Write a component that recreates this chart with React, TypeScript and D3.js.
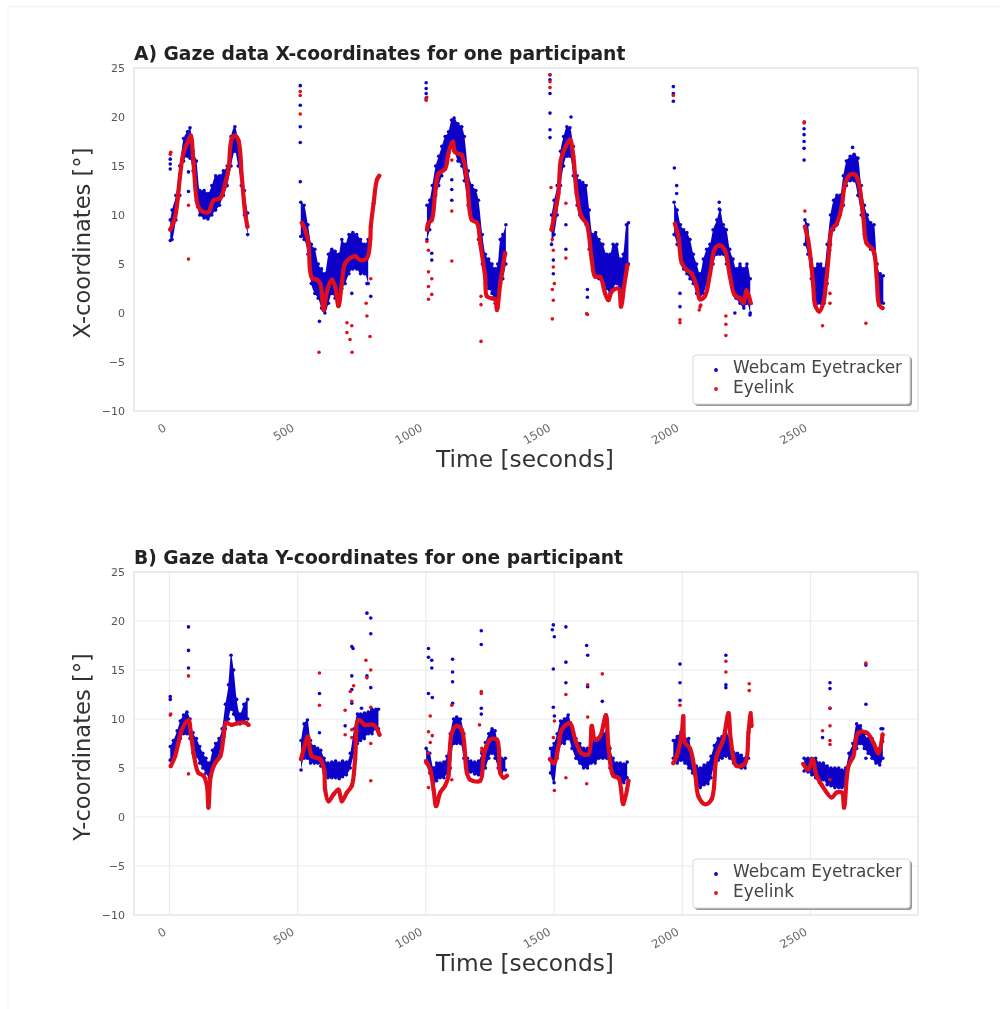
import React from "react";
import * as d3 from "d3";

// Values. Trace = [seconds, degrees]; band = [seconds, low, high]; outliers = [seconds, degrees]
const xTicks = [0, 500, 1000, 1500, 2000, 2500];
const yTicks = [-10, -5, 0, 5, 10, 15, 20, 25];

const xEyelinkTrace = [
  [[3,8.5],[22,9.8],[42,14.2],[55,16.4],[74,17.6],[83,18.1],[94,15.2],[113,10.8],[133,10.3],[152,10.3],[172,11.5],[198,11.7],[217,13.2],[230,14.6],[243,17.8],[256,18.1],[269,17.6],[282,13.9],[295,10.2],[304,8.8]],
  [[516,9.2],[529,8.5],[542,7.1],[555,3.6],[575,3.4],[588,3],[601,.3],[614,2.2],[633,3.4],[646,2.7],[659,.7],[672,3],[685,5.1],[705,5.6],[724,5.8],[744,5.4],[770,5.6],[783,7.5],[785,8.8],[796,11.2],[809,13.6],[818,14]],
  [[1004,8.5],[1010,9.2],[1023,9.5],[1036,12.2],[1049,14.2],[1075,14.7],[1088,16.3],[1105,17.5],[1114,16.4],[1140,16.1],[1160,13.6],[1179,9.5],[1199,9.2],[1212,7.1],[1231,3.7],[1238,1.7],[1257,1.5],[1270,1.4],[1277,.3],[1290,3],[1309,6.1]],
  [[1490,8.5],[1503,10.2],[1517,12.2],[1526,15.6],[1542,16.8],[1562,17.7],[1575,16],[1588,12.2],[1607,9.8],[1627,9.1],[1647,5.4],[1660,3.7],[1679,3.7],[1699,2],[1712,1.3],[1725,2.2],[1751,2.5],[1761,.65],[1773,2.7],[1786,4.9]],
  [[1971,9.1],[1985,7.8],[1998,5.1],[2017,4.4],[2037,4],[2056,2.7],[2069,1.4],[2088,1.7],[2108,4],[2128,6.6],[2147,6.9],[2166,6.4],[2186,3.7],[2205,1.8],[2225,1.5],[2238,1],[2251,2.3],[2267,1]],
  [[2478,8.8],[2491,7.4],[2504,4.7],[2511,2.7],[2518,.8],[2534,.15],[2550,1],[2563,3.7],[2573,6.4],[2583,8.5],[2602,9.1],[2622,10.9],[2635,13.2],[2654,14.1],[2674,14.1],[2687,13.4],[2706,9.8],[2719,7.1],[2745,6.4],[2758,3.7],[2768,.8],[2781,.5]],
];
const xEyelinkOutliers = [
  [3,16.2],[5,16.4],[74,11],[74,5.5],
  [510,22.2],[510,22.6],[510,20.3],[583,-4],[692,-1],[704,-2.7],[711,-1.3],[712,-4],[767,1],[770,-.3],[785,3.5],[782,-2.4],[692,-2],
  [1001,21.7],[1003,22],[1004,7.3],[1010,6.4],[1010,4.2],[1023,3.5],[1010,2.7],[1023,1.9],[1010,1.4],[1101,15.6],[1101,10.4],[1101,5.3],[1215,1.7],[1215,.85],[1215,-2.9],
  [1484,24.3],[1484,23.6],[1484,23],[1488,12.8],[1546,11.2],[1546,5.6],[1630,-.15],[1627,-.05],[1493,7.5],[1497,6.4],[1497,4.7],[1501,3],[1493,2.4],[1497,1.3],[1493,-.6],
  [1965,22.2],[1991,-.7],[1991,-1],[2069,.6],[2066,.3],[2072,.8],[2170,-.3],[2170,-1.15],[2170,-2.3],
  [2475,19.4],[2476,19.5],[2478,10.4],[2576,2],[2576,1],[2547,-1.3],[2716,-1.05],
];
const xWebcamBand = [
  [[3,7.4,9.5],[10,7.5,10.5],[25,9.5,12],[40,12,15],[55,15.5,17.8],[70,16,18.5],[80,15.8,18.9],[92,14.5,16.5],[105,11.5,15.5],[118,10,12.5],[135,9.7,12.5],[150,9.6,12.2],[165,10,13],[180,10.5,14],[195,11,14],[210,12,14.5],[225,13,15],[240,15,18],[255,16.5,19],[268,15,17.5],[280,13,15.5],[292,10,12.5],[305,8,10.2]],
  [[512,7.8,11.3],[525,7.5,11],[540,6,9],[553,3,7],[567,2,6.5],[580,1.5,5],[593,.5,4.5],[606,0,4],[620,1,6],[633,2,6.5],[646,1.5,6.3],[660,1,6],[672,2.5,7.5],[685,3,7],[700,4,8],[715,4.5,8.2],[730,4.5,8],[745,4,7.5],[760,4,7],[775,3,7.5]],
  [[1004,7.5,11],[1015,8.5,11.5],[1025,10,13],[1038,12,15],[1050,13,16],[1062,14,17],[1075,15,18],[1088,16,18.5],[1100,17,19.7],[1110,16.5,19.9],[1125,15.5,19.3],[1140,15,19],[1150,13.5,18],[1165,11,14.5],[1180,9.5,13],[1195,9.5,12.5],[1205,7.5,11.5],[1220,5,8],[1232,3,6],[1245,2.5,5.5],[1258,2,5],[1270,1,4.5],[1280,.5,5],[1290,3,7.5],[1300,3.5,8],[1312,5,9]],
  [[1490,7,10],[1500,8,11.5],[1512,10,13],[1525,13,16.5],[1537,15,18],[1550,16,19],[1562,16,18.9],[1575,14,17],[1590,11,14],[1600,10,13.5],[1612,9.8,13.3],[1625,9,13],[1637,6.5,10.5],[1650,5,8],[1662,4,8.2],[1675,3.5,7.5],[1690,3,7],[1705,2.5,6],[1718,2,6],[1730,2.5,7],[1745,3,7],[1758,2,5.5],[1770,3,6],[1782,4,9],[1790,5,9.2]],
  [[1968,8,11.3],[1980,7,10.5],[1993,5.5,9],[2005,4.5,8.5],[2018,4,8.2],[2030,3.5,7.5],[2043,3,6],[2056,2,5],[2069,1.8,4],[2082,2,5.5],[2095,3,6.5],[2108,4,7],[2120,5,8.5],[2135,6,9.5],[2147,6,10.5],[2160,6,9],[2172,5,8.5],[2185,4,6.5],[2198,2.5,5.5],[2210,1.5,4.5],[2225,1,5],[2240,.5,4.5],[2252,1,5],[2265,0,3.5]],
  [[2478,7,9.5],[2490,6,9],[2503,3.5,5.5],[2515,1.5,4.5],[2528,1,5],[2540,1,5],[2553,1,4.5],[2565,3,7],[2578,7,10],[2590,8.5,11.5],[2603,9,12],[2615,10,12],[2628,11,14],[2640,13,15.5],[2655,13.5,16],[2670,13.5,16.2],[2685,12,15.8],[2698,10,13],[2710,8,11],[2722,7,10],[2735,6.5,9.2],[2748,6,9],[2760,3,5],[2772,1,4],[2784,1,3.8]],
];
const xWebcamOutliers = [
  [3,14.7],[3,15.2],[3,15.7],[74,14.4],[74,12.4],
  [510,23.2],[510,21.2],[510,19],[510,17.4],[510,13.4],[585,-.85],[711,2],[770,3],[785,1.7],
  [1001,23.5],[1001,22.9],[1001,22.4],[1001,21.9],[1101,13.6],[1101,12.6],[1101,11.5],[1023,6.1],[1023,5.4],
  [1484,24.3],[1484,23.8],[1484,22.4],[1484,20.4],[1484,18.7],[1484,17.9],[1566,20],[1546,9],[1546,6.5],[1630,2.4],[1630,1.6],[1497,5.4],[1497,4],
  [1965,23.1],[1965,22.4],[1965,21.6],[1969,14.8],[1978,13],[1978,12.2],[1991,2],[1991,.65],[2144,10.6],[2144,11.3],[2205,0],[2264,-.2],
  [2475,18.8],[2475,18.2],[2475,17.5],[2475,16.8],[2475,15.6],[2664,16.9],
];

const yEyelinkTrace = [
  [[5,5.2],[22,6.2],[35,7.6],[48,8.9],[74,9.9],[83,8.6],[96,6.2],[113,4.5],[133,4.2],[146,3.2],[152,.95],[161,4.2],[178,5.5],[198,6.2],[211,8.2],[221,9.6],[243,9.4],[269,9.6],[299,9.6],[308,9.4]],
  [[513,5.9],[523,6.9],[540,8.2],[555,6.2],[588,5.9],[603,4.8],[607,2.8],[620,1.6],[640,2.3],[659,2.8],[672,1.6],[692,2.5],[711,3.2],[724,5.9],[737,9.9],[763,9.4],[796,9.4],[819,8.4]],
  [[1001,5.7],[1017,4.8],[1030,2.8],[1040,1.1],[1056,2.5],[1075,3.2],[1088,4.2],[1101,8.6],[1121,9.3],[1140,8.9],[1160,4.5],[1173,3.8],[1212,3.7],[1225,6.2],[1251,7.9],[1277,7.9],[1290,4.5],[1303,4],[1316,4.2]],
  [[1484,5.9],[1501,5.5],[1517,7.2],[1530,8.9],[1562,9.6],[1582,7.9],[1607,6.5],[1634,6.4],[1647,9.3],[1660,7.9],[1679,8.2],[1702,10.4],[1712,7.2],[1731,4.2],[1751,4],[1770,1.3],[1790,3.7]],
  [[1965,5.5],[1978,6.2],[1998,8.6],[2004,10.3],[2010,7.6],[2030,7],[2050,4.5],[2063,2.1],[2088,1.3],[2114,1.8],[2134,6.2],[2160,7.9],[2180,10.6],[2189,7.9],[2212,5.2],[2245,5.5],[2258,8.6],[2267,10.6],[2270,9.3]],
  [[2472,5.4],[2491,4.8],[2508,5.9],[2524,4.2],[2543,3.3],[2582,2],[2602,2.5],[2622,2.5],[2631,.95],[2648,5.2],[2667,6.2],[2687,8.6],[2719,8.6],[2745,7.6],[2765,6.5],[2781,8.4]],
];
const yEyelinkOutliers = [
  [3,10.4],[5,10.5],[74,14.4],[74,4.4],
  [585,14.7],[585,11.4],[685,10.9],[685,8.4],[705,12.8],[718,13.4],[711,11.8],[711,8.9],[711,8.1],[766,16],[785,15],[770,14.2],[785,11.2],[785,7.5],[785,3.7],
  [1017,10.3],[1010,8.7],[1025,8.3],[1017,7.6],[1010,6.5],[1010,3],[1101,11.4],[1101,3.8],[1216,12.8],[1216,12.6],[1209,9.4],[1218,7],[1218,6.7],
  [1688,14.6],[1631,13.5],[1546,12.5],[1631,10.2],[1501,2.7],[1546,4],[1627,3.4],[1501,9.8],[1497,8.1],
  [1991,11.4],[2170,15.9],[2170,14.8],[2261,13.6],[2261,12.9],
  [2716,15.7],[2576,11.1],[2576,9.3],[2576,7.8],[2576,7.4],[2547,8.8],[2576,3.8],
];
const yWebcamBand = [
  [[3,5.8,7.2],[15,6,7.8],[30,7,8.8],[42,8,9.8],[55,8.5,10.4],[68,8.5,10.7],[80,8,10],[92,6.5,8.6],[105,6.2,8],[118,5.5,7.2],[130,5,6.5],[142,4.5,6],[155,4,5.5],[168,4.8,6.8],[180,5.5,7.5],[193,6.5,8],[205,7.5,9],[218,9,11.5],[230,10,13.5],[240,11,16.5],[250,10.5,15],[262,9.5,12],[275,9.5,10.5],[290,9.8,11.5],[305,10,12]],
  [[513,4.8,7.8],[525,6,9.5],[538,6,9.9],[550,5.5,7.8],[565,5.5,7.2],[578,5.5,7],[590,5.2,6.8],[603,4.5,6],[618,4,5.5],[633,4,5.6],[648,4,5.7],[662,3.9,5.5],[675,4.1,5.7],[690,4.3,5.6],[705,5,6.5],[720,6.5,9],[733,7.5,10.5],[745,7.8,10.5],[760,8,10.6],[775,8.5,10.7],[790,8.5,11],[805,9,11],[815,9,11]],
  [[1001,5.5,7],[1015,4.5,6.5],[1030,3.5,5],[1042,3.7,5.5],[1055,4,5.5],[1070,4,5.6],[1082,4.5,6.2],[1095,5,8.5],[1108,7.5,10],[1120,7.5,10.2],[1135,7.5,10],[1148,6,8.5],[1162,4.5,6],[1175,4.6,5.7],[1190,4.4,5.6],[1205,4.3,5.7],[1218,4.5,6.5],[1232,5,7.6],[1245,6,8.5],[1258,6.5,9],[1270,6,8.8],[1282,5,7],[1295,4.6,6],[1310,4.8,6]],
  [[1486,4.5,7],[1500,3.5,7.5],[1512,6,8.5],[1525,7.5,9.8],[1540,7.5,10],[1555,8,10.4],[1570,7,9],[1585,6,8],[1600,5.5,7.5],[1615,5,7],[1630,5,7],[1645,5.5,7.5],[1660,5.5,8],[1675,6,8],[1690,6,8.5],[1705,6,8.7],[1718,5,7],[1730,4.5,6],[1745,4,5.5],[1758,3.6,5.5],[1772,3.5,5.4],[1785,4,5.6]],
  [[1965,6,7.8],[1980,5.5,8.2],[1995,5.8,8.7],[2010,5.5,8],[2025,5,8],[2040,4.5,6],[2055,3.3,5.2],[2070,3,5],[2085,3.3,5.3],[2100,3.4,5.5],[2112,4,6.2],[2125,5.4,7.3],[2140,5.8,8],[2155,6,8.2],[2170,6.2,8.5],[2185,6,8],[2200,5.5,6.6],[2215,5.2,6.5],[2230,5,6.3],[2245,5,6],[2258,6,8]],
  [[2475,4.7,6],[2490,4.6,6],[2505,4.3,6],[2520,4,6],[2535,3.5,5.5],[2550,3.8,5.5],[2565,3.3,5.2],[2580,3.2,5],[2595,3,5],[2610,3,5],[2622,3,4.8],[2637,3,5],[2650,5.5,6.5],[2665,6,7.5],[2680,7,9.5],[2695,7.5,9.3],[2710,7,8.5],[2725,6.5,8],[2740,6,8],[2755,5.5,7],[2770,5.3,7],[2782,6,9]],
];
const yWebcamOutliers = [
  [3,12.3],[3,12],[74,19.4],[74,17],[74,15.2],
  [585,12.6],[585,8.6],[685,9.3],[711,17.4],[716,17.2],[711,14.4],[711,13],[711,11.6],[770,20.8],[785,20.3],[785,18.7],[770,14.4],[785,13.2],[749,11.1],
  [1010,17.2],[1010,16.3],[1023,16],[1023,15.2],[1010,12.6],[1025,12.2],[1104,16.1],[1104,14.8],[1104,13.8],[1104,11.6],[1216,19],[1216,17.6],[1216,11.1],[1216,10.5],
  [1497,19.6],[1493,19.1],[1501,18.4],[1497,15.1],[1497,11.2],[1546,19.4],[1546,15.8],[1546,13.7],[1627,17.5],[1631,16.5],[1631,13.3],[1688,11.8],[1501,10.3],
  [1991,15.6],[1991,13.7],[1991,11.9],[2170,16.5],[2170,13.5],[2170,13.2],
  [2576,13.7],[2576,13.1],[2576,11.1],[2547,8.1],[2716,15.5],[2716,11.5],[2716,6],[2775,9],[2781,7.7],
];

const webcamLabel = "Webcam Eyetracker";
const eyelinkLabel = "Eyelink";
const BLUE = "#0a06c8";
const RED = "#e0101c";
const FONT = "'DejaVu Sans', sans-serif";

const x = d3.scaleLinear().domain([0, 500]).range([169.5, 297.7]);
const left = 134, right = 918;

type Pt = number[];
function Panel({ top, title, yLabel, grid, trace, redOut, band, blueOut }: {
  top: number; title: string; yLabel: string; grid: boolean;
  trace: Pt[][]; redOut: Pt[]; band: Pt[][]; blueOut: Pt[];
}) {
  const bottom = top + 343;
  const y = d3.scaleLinear().domain([-10, 25]).range([bottom, top]);
  const area = d3.area<Pt>().x(d => x(d[0])).y0(d => y(d[1])).y1(d => y(d[2])).curve(d3.curveMonotoneX);
  const line = d3.line<Pt>().x(d => x(d[0])).y(d => y(d[1])).curve(d3.curveCatmullRom.alpha(0.5));
  const midX = 525;
  const legendTop = top + 287;
  return (
    <g>
      {grid && yTicks.slice(1, -1).map(t => (
        <line key={t} x1={left} x2={right} y1={y(t)} y2={y(t)} stroke="#ececec" strokeWidth={1.2} />
      ))}
      {grid && xTicks.map(t => (
        <line key={t} x1={x(t)} x2={x(t)} y1={top} y2={bottom} stroke="#ececec" strokeWidth={1.2} />
      ))}
      <rect x={left} y={top} width={right - left} height={bottom - top} fill="none" stroke="#dedede" strokeWidth={1.2} />

      {band.map((s, i) => <path key={i} d={area(s as any) || ""} fill={BLUE} />)}
      {band.flat().map((d, i) => (
        <g key={i} fill={BLUE}>
          <circle cx={x(d[0])} cy={y(d[1])} r={1.8} />
          <circle cx={x(d[0])} cy={y(d[2])} r={1.8} />
        </g>
      ))}
      {blueOut.map((d, i) => <circle key={i} cx={x(d[0])} cy={y(d[1])} r={1.8} fill={BLUE} />)}
      {trace.map((s, i) => <path key={i} d={line(s as any) || ""} fill="none" stroke={RED} strokeWidth={4.2} strokeLinejoin="round" strokeLinecap="round" />)}
      {trace.flat().map((d, i) => <circle key={i} cx={x(d[0])} cy={y(d[1])} r={2.1} fill={RED} />)}
      {redOut.map((d, i) => <circle key={i} cx={x(d[0])} cy={y(d[1])} r={1.8} fill={RED} />)}

      {yTicks.map(t => (
        <text key={t} x={125} y={y(t) + 4} textAnchor="end" fontSize={11} fill="#555">{String(t).replace("-", "\u2212")}</text>
      ))}
      {xTicks.map(t => (
        <text key={t} transform={`translate(${x(t) - 2.5},${bottom + 19}) rotate(-30)`} textAnchor="end" fontSize={11.5} fill="#666">{t}</text>
      ))}
      <text x={134} y={top - 8} fontSize={18.7} fontWeight="bold" fill="#222">{title}</text>
      <text x={midX} y={bottom + 56} textAnchor="middle" fontSize={23.3} fill="#333">Time [seconds]</text>
      <text transform={`translate(90,${top + 175}) rotate(-90)`} textAnchor="middle" fontSize={22.6} fill="#333">{yLabel}</text>

      <rect x={695} y={legendTop + 2} width={217} height={49} rx={3} fill="#999" />
      <rect x={693} y={legendTop} width={217} height={49} rx={3} fill="#fff" stroke="#d8d8d8" />
      <circle cx={716} cy={legendTop + 15} r={1.9} fill={BLUE} />
      <circle cx={716} cy={legendTop + 34} r={1.9} fill={RED} />
      <text x={733} y={legendTop + 18} fontSize={16.9} fill="#444">{webcamLabel}</text>
      <text x={733} y={legendTop + 38} fontSize={16.9} fill="#444">{eyelinkLabel}</text>
    </g>
  );
}

export default function App() {
  return (
    <svg width={1008} height={1009} viewBox="0 0 1008 1009" fontFamily={FONT}
      style={{ position: "absolute", left: 0, top: 0, display: "block", background: "#fff" }}>
      <defs>
        <filter id="soft" x="0" y="0" width="100%" height="100%">
          <feGaussianBlur stdDeviation="0.7" />
        </filter>
      </defs>
      <g filter="url(#soft)">
        <rect width={1008} height={1009} fill="#fff" />
        <line x1={8} x2={1000} y1={6.5} y2={6.5} stroke="#f1f1f1" />
        <line x1={8} x2={8} y1={6} y2={1009} stroke="#f1f1f1" />
        <Panel top={68} title="A) Gaze data X-coordinates for one participant" yLabel="X-coordinates [°]" grid={false}
          trace={xEyelinkTrace} redOut={xEyelinkOutliers} band={xWebcamBand} blueOut={xWebcamOutliers} />
        <Panel top={572} title="B) Gaze data Y-coordinates for one participant" yLabel="Y-coordinates [°]" grid={true}
          trace={yEyelinkTrace} redOut={yEyelinkOutliers} band={yWebcamBand} blueOut={yWebcamOutliers} />
      </g>
    </svg>
  );
}
